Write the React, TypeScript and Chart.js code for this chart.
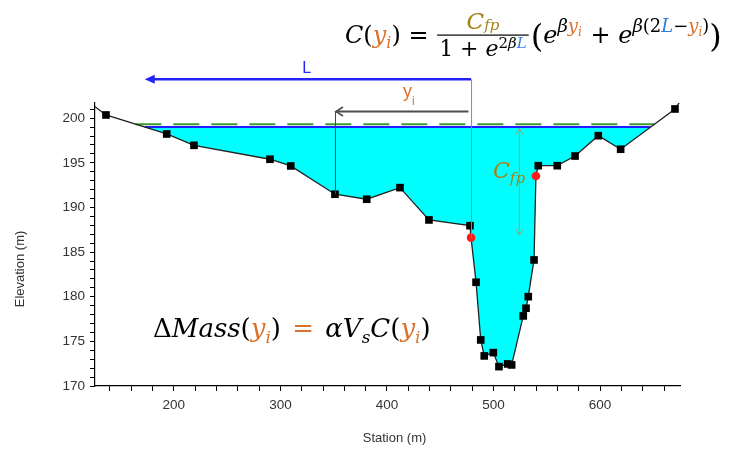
import React, { useEffect, useRef } from 'react';
import { Chart, registerables } from 'chart.js';

Chart.register(...registerables);

// ---- data ----
const groundStations = [118, 136.3, 193.3, 218.9, 290.2, 309.7, 351.2, 381.0, 412.2, 439.4, 477.9, 478.9, 483.6, 488.0, 491.3, 499.8, 505.1, 513.3, 517.0, 527.9, 530.5, 532.6, 538.0, 539.8, 542.0, 559.8, 576.5, 598.3, 619.3, 670.3, 678];
const groundElevations = [202.0, 200.36, 198.23, 196.96, 195.40, 194.65, 191.48, 190.92, 192.22, 188.60, 187.96, 186.62, 181.62, 175.16, 173.37, 173.74, 172.17, 172.47, 172.36, 177.85, 178.71, 180.01, 184.12, 193.53, 194.68, 194.68, 195.76, 198.04, 196.52, 201.03, 202.4];
const redStations = [478.9, 539.8];
const waterLevel = 199.0;
const floodLevel = 199.33;
const xTickLabels = [200, 300, 400, 500, 600];
const yTickLabels = [170, 175, 180, 185, 190, 195, 200];
const xRange = [126, 675];
const yRange = [170, 201.7];

// annotation anchors (data units)
const yiStation = 351.2;
const lArrowElev = 204.35;
const yiArrowElev = 200.75;
const yiArrowStart = 476.5;
const cfpStation = 524.2;
const cfpTop = 198.85;
const cfpBottom = 186.9;

const MATH = '"DejaVu Serif", serif';
const SANS = '"Liberation Sans", Arial, sans-serif';
const ORANGE = '#d9732b';
const GOLD = '#a58318';
const LBLUE = '#2f7ae5';

function crossings(level: number): [number, number] {
  const xs: number[] = [];
  for (let i = 0; i < groundStations.length - 1; i++) {
    const a = groundElevations[i] - level;
    const b = groundElevations[i + 1] - level;
    if (a * b < 0) {
      xs.push(groundStations[i] + (groundStations[i + 1] - groundStations[i]) * a / (a - b));
    }
  }
  return [xs[0], xs[xs.length - 1]];
}

type Run = { t: string; size: number; it?: boolean; color?: string; dy?: number; fam?: string; gap?: number };
function drawRuns(ctx: CanvasRenderingContext2D, x: number, y: number, runs: Run[]) {
  for (const r of runs) {
    ctx.font = `${r.it ? 'italic ' : ''}${r.size}px ${r.fam || MATH}`;
    ctx.fillStyle = r.color || '#000';
    ctx.textAlign = 'left';
    ctx.textBaseline = 'alphabetic';
    ctx.fillText(r.t, x, y + (r.dy || 0));
    x += ctx.measureText(r.t).width + (r.gap || 0);
  }
  return x;
}
function runsWidth(ctx: CanvasRenderingContext2D, runs: Run[]) {
  let w = 0;
  for (const r of runs) {
    ctx.font = `${r.it ? 'italic ' : ''}${r.size}px ${r.fam || MATH}`;
    w += ctx.measureText(r.t).width + (r.gap || 0);
  }
  return w;
}

function arrowHead(ctx: CanvasRenderingContext2D, x: number, y: number, dx: number, dy: number, len: number, hw: number, filled: boolean) {
  const n = Math.hypot(dx, dy);
  const ux = dx / n, uy = dy / n;
  const bx = x - ux * len, by = y - uy * len;
  ctx.beginPath();
  ctx.moveTo(bx - uy * hw, by + ux * hw);
  ctx.lineTo(x, y);
  ctx.lineTo(bx + uy * hw, by - ux * hw);
  if (filled) { ctx.closePath(); ctx.fill(); } else ctx.stroke();
}

const annotations = {
  id: 'annotations',
  afterDraw(chart: any) {
    const ctx: CanvasRenderingContext2D = chart.ctx;
    const xs = chart.scales.x, ys = chart.scales.y;
    const X = (v: number) => xs.getPixelForValue(v);
    const Y = (v: number) => ys.getPixelForValue(v);
    const [leftEdge] = crossings(waterLevel);
    const pivot = redStations[0];
    const pivotElev = groundElevations[groundStations.indexOf(pivot)];
    const yiElev = groundElevations[groundStations.indexOf(yiStation)];
    ctx.save();

    // red vertical line
    ctx.strokeStyle = '#ff5a5a';
    ctx.lineWidth = 1;
    ctx.beginPath();
    ctx.moveTo(X(pivot) + 0.5, Y(lArrowElev));
    ctx.lineTo(X(pivot) + 0.5, Y(pivotElev));
    ctx.stroke();

    // L arrow
    ctx.strokeStyle = '#2323f5';
    ctx.fillStyle = '#2323f5';
    ctx.lineWidth = 2.5;
    ctx.beginPath();
    ctx.moveTo(X(pivot), Y(lArrowElev));
    ctx.lineTo(X(leftEdge) + 6, Y(lArrowElev));
    ctx.stroke();
    arrowHead(ctx, X(leftEdge), Y(lArrowElev), -1, 0, 10, 4.5, true);
    ctx.font = `16px ${SANS}`;
    ctx.textAlign = 'center';
    ctx.textBaseline = 'alphabetic';
    ctx.fillText('L', X(324.7), Y(205.06));

    // y_i arrow
    ctx.strokeStyle = '#4d4d4d';
    ctx.lineWidth = 2;
    ctx.beginPath();
    ctx.moveTo(X(yiArrowStart), Y(yiArrowElev));
    ctx.lineTo(X(yiStation) + 1, Y(yiArrowElev));
    ctx.stroke();
    ctx.lineWidth = 1.6;
    arrowHead(ctx, X(yiStation) + 1, Y(yiArrowElev), -1, 0, 7, 4.5, false);
    ctx.strokeStyle = '#444';
    ctx.lineWidth = 1;
    ctx.beginPath();
    ctx.moveTo(X(yiStation) + 0.5, Y(yiArrowElev));
    ctx.lineTo(X(yiStation) + 0.5, Y(yiElev));
    ctx.stroke();
    drawRuns(ctx, X(415), Y(202.32), [
      { t: 'y', size: 18, color: ORANGE, fam: SANS },
      { t: 'i', size: 12, color: ORANGE, fam: SANS, dy: 8 },
    ]);

    // C_fp arrow
    ctx.strokeStyle = '#8aa86a';
    ctx.lineWidth = 1;
    ctx.beginPath();
    ctx.moveTo(X(cfpStation), Y(cfpTop));
    ctx.lineTo(X(cfpStation), Y(cfpBottom));
    ctx.stroke();
    arrowHead(ctx, X(cfpStation), Y(cfpTop), 0, -1, 6, 3.5, false);
    arrowHead(ctx, X(cfpStation), Y(cfpBottom), 0, 1, 6, 3.5, false);
    drawRuns(ctx, X(499.5), Y(193.3), [
      { t: 'C', size: 22, it: true, color: GOLD },
      { t: 'fp', size: 15, it: true, color: GOLD, dy: 5 },
    ]);

    // axis titles
    ctx.fillStyle = '#333';
    ctx.font = `13px ${SANS}`;
    ctx.textAlign = 'center';
    ctx.textBaseline = 'middle';
    ctx.fillText('Station (m)', (chart.chartArea.left + chart.chartArea.right) / 2 + 7, 438);
    ctx.save();
    ctx.translate(20, 269);
    ctx.rotate(-Math.PI / 2);
    ctx.fillText('Elevation (m)', 0, 0);
    ctx.restore();

    // top formula
    let x = drawRuns(ctx, 345, 43, [
      { t: 'C', size: 24, it: true },
      { t: '(', size: 24 },
      { t: 'y', size: 24, it: true, color: ORANGE },
      { t: 'i', size: 16, it: true, color: ORANGE, dy: 5 },
      { t: ')', size: 24 },
      { t: ' = ', size: 24 },
    ]);
    const num: Run[] = [
      { t: 'C', size: 23, it: true, color: GOLD },
      { t: 'fp', size: 15, it: true, color: GOLD, dy: 1 },
    ];
    const den: Run[] = [
      { t: '1', size: 22 },
      { t: ' + ', size: 22 },
      { t: 'e', size: 22, it: true },
      { t: '2', size: 15, dy: -8 },
      { t: 'β', size: 15, it: true, dy: -8 },
      { t: 'L', size: 15, it: true, color: LBLUE, dy: -8 },
    ];
    const dw = runsWidth(ctx, den);
    const nw = runsWidth(ctx, num);
    const fx = x + 1;
    const fw = dw + 4;
    drawRuns(ctx, fx + (fw - nw) / 2, 28.5, num);
    ctx.fillStyle = '#000';
    ctx.fillRect(fx, 34.5, fw, 1.2);
    drawRuns(ctx, fx + 2, 56, den);
    x = fx + fw + 2;
    x = drawRuns(ctx, x, 47, [{ t: '(', size: 32 }]);
    x = drawRuns(ctx, x, 43, [
      { t: 'e', size: 24, it: true },
      { t: 'β', size: 18, it: true, dy: -11 },
      { t: 'y', size: 18, it: true, color: ORANGE, dy: -11 },
      { t: 'i', size: 12, it: true, color: ORANGE, dy: -7, gap: 1 },
      { t: ' + ', size: 24 },
      { t: 'e', size: 24, it: true },
      { t: 'β', size: 18, it: true, dy: -11 },
      { t: '(2', size: 18, dy: -11 },
      { t: 'L', size: 18, it: true, color: LBLUE, dy: -11 },
      { t: '−', size: 18, dy: -11 },
      { t: 'y', size: 18, it: true, color: ORANGE, dy: -11 },
      { t: 'i', size: 12, it: true, color: ORANGE, dy: -7 },
      { t: ')', size: 18, dy: -11 },
    ]);
    drawRuns(ctx, x, 47, [{ t: ')', size: 32 }]);

    // mass formula
    drawRuns(ctx, 153, 337, [
      { t: 'Δ', size: 26 },
      { t: 'Mass', size: 26, it: true },
      { t: '(', size: 26 },
      { t: 'y', size: 26, it: true, color: ORANGE },
      { t: 'i', size: 17, it: true, color: ORANGE, dy: 6 },
      { t: ')', size: 26, gap: 3 },
      { t: ' = ', size: 26, color: ORANGE, gap: 3 },
      { t: 'αV', size: 26, it: true },
      { t: 's', size: 17, it: true, dy: 6 },
      { t: 'C', size: 26, it: true },
      { t: '(', size: 26 },
      { t: 'y', size: 26, it: true, color: ORANGE },
      { t: 'i', size: 17, it: true, color: ORANGE, dy: 6 },
      { t: ')', size: 26 },
    ]);
    ctx.restore();
  },
};

export default function App() {
  const ref = useRef<HTMLCanvasElement>(null);
  useEffect(() => {
    if (!ref.current) return;
    const [wl, wr] = crossings(waterLevel);
    const [fl, fr] = crossings(floodLevel);
    const ground = groundStations.map((s, i) => ({ x: s, y: groundElevations[i] }));
    const water = [
      { x: wl, y: waterLevel },
      ...ground.filter((p) => p.x > wl && p.x < wr),
      { x: wr, y: waterLevel },
    ];
    const black = ground.filter((p) => !redStations.includes(p.x));
    const red = ground.filter((p) => redStations.includes(p.x));
    const isLabel = (v: number, list: number[]) => list.some((t) => Math.abs(t - v) < 1e-6);

    const chart = new Chart(ref.current, {
      type: 'scatter',
      data: {
        datasets: [
          { data: water, showLine: true, fill: { value: waterLevel }, backgroundColor: '#00ffff', borderColor: 'transparent', borderWidth: 0, pointRadius: 0, order: 6 } as any,
          { data: [{ x: wl, y: waterLevel }, { x: wr, y: waterLevel }], showLine: true, borderColor: '#1f1fff', borderWidth: 2, pointRadius: 0, order: 5 },
          { data: [{ x: fl, y: floodLevel }, { x: fr, y: floodLevel }], showLine: true, borderColor: '#3c9a32', borderWidth: 2, borderDash: [26, 12], pointRadius: 0, order: 4 },
          { data: ground, showLine: true, borderColor: '#222', borderWidth: 1.3, pointRadius: 0, order: 3 },
          { data: black, showLine: false, pointStyle: 'rect', pointRadius: 5.4, backgroundColor: '#000', borderColor: '#000', borderWidth: 0, order: 2 },
          { data: red, showLine: false, pointStyle: 'circle', pointRadius: 4.3, backgroundColor: '#ff1a1a', borderColor: '#ff1a1a', borderWidth: 0, order: 1 },
        ],
      },
      options: {
        responsive: false,
        animation: false,
        devicePixelRatio: 1,
        layout: { padding: { left: 0, right: 60, top: 103, bottom: 0 } },
        plugins: { legend: { display: false }, tooltip: { enabled: false } },
        scales: {
          x: {
            type: 'linear',
            min: xRange[0],
            max: xRange[1],
            afterFit: (s: any) => { s.height = 68; },
            ticks: {
              stepSize: 20, includeBounds: false, autoSkip: false, maxRotation: 0, padding: 6,
              color: '#333', font: { family: SANS, size: 13.5 },
              callback: (v: any) => (isLabel(Number(v), xTickLabels) ? String(v) : ''),
            },
            grid: { drawOnChartArea: false, drawTicks: true, tickLength: 5, color: '#000' },
            border: { color: '#000', width: 1.2 },
          },
          y: {
            type: 'linear',
            min: yRange[0],
            max: yRange[1],
            afterFit: (s: any) => { s.width = 95; },
            ticks: {
              stepSize: 1, includeBounds: false, autoSkip: false, padding: 5,
              color: '#333', font: { family: SANS, size: 13.5 },
              callback: (v: any) => (isLabel(Number(v), yTickLabels) ? String(v) : ''),
            },
            grid: { drawOnChartArea: false, drawTicks: true, tickLength: 5, color: '#000' },
            border: { color: '#000', width: 1.2 },
          },
        },
      },
      plugins: [annotations],
    });
    return () => chart.destroy();
  }, []);
  return (
    <div style={{ position: 'fixed', left: 0, top: 0, width: 740, height: 454, background: '#fff' }}>
      <canvas ref={ref} width={740} height={454} style={{ width: 740, height: 454, display: 'block' }} />
    </div>
  );
}
